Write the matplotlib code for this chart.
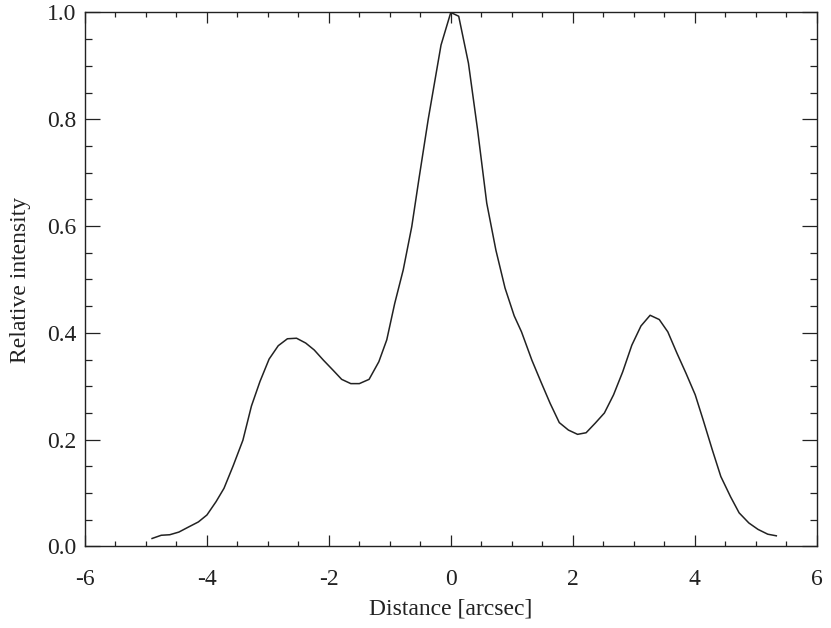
import numpy as np
import matplotlib
matplotlib.use("Agg")
import matplotlib.pyplot as plt
from matplotlib.ticker import MultipleLocator

# profile
distance = [-4.90, -4.75, -4.61, -4.46, -4.31, -4.14, -4.00, -3.85, -3.72, -3.57,
            -3.41, -3.27, -3.13, -2.98, -2.83, -2.68, -2.53, -2.38, -2.24, -2.09,
            -1.93, -1.79, -1.64, -1.50, -1.34, -1.18, -1.05, -0.92, -0.78, -0.64,
            -0.52, -0.37, -0.16, 0.00, 0.13, 0.29, 0.44, 0.59, 0.74, 0.89,
            1.04, 1.16, 1.33, 1.48, 1.63, 1.78, 1.93, 2.08, 2.22, 2.37,
            2.52, 2.67, 2.82, 2.97, 3.12, 3.27, 3.42, 3.56, 3.71, 3.86,
            4.01, 4.14, 4.29, 4.43, 4.59, 4.73, 4.89, 5.04, 5.20, 5.34]
intensity = [0.015, 0.021, 0.022, 0.027, 0.036, 0.046, 0.059, 0.084, 0.109, 0.151,
             0.199, 0.263, 0.309, 0.351, 0.376, 0.389, 0.390, 0.381, 0.368, 0.349,
             0.330, 0.313, 0.305, 0.305, 0.313, 0.346, 0.387, 0.455, 0.518, 0.599,
             0.690, 0.800, 0.939, 1.000, 0.993, 0.905, 0.780, 0.643, 0.555, 0.484,
             0.432, 0.402, 0.349, 0.308, 0.268, 0.232, 0.218, 0.210, 0.213, 0.231,
             0.250, 0.284, 0.327, 0.377, 0.413, 0.433, 0.425, 0.402, 0.362, 0.324,
             0.284, 0.237, 0.181, 0.131, 0.093, 0.063, 0.044, 0.032, 0.023, 0.020]

plt.rcParams['font.family'] = ['Liberation Serif', 'DejaVu Serif']
ink = '#222222'

fig = plt.figure(figsize=(8.31, 6.28), dpi=100)
ax = fig.add_axes([0.1023, 0.1298, 0.8803, 0.8503])
ax.plot(distance, intensity, color=ink, lw=1.1)

ax.set_xlim(-6, 6)
ax.set_ylim(0, 1.0)
ax.xaxis.set_major_locator(MultipleLocator(2))
ax.xaxis.set_minor_locator(MultipleLocator(0.5))
ax.yaxis.set_major_locator(MultipleLocator(0.2))
ax.yaxis.set_minor_locator(MultipleLocator(0.05))
ax.xaxis.set_major_formatter(plt.FuncFormatter(lambda v, p: '%d' % v))
ax.yaxis.set_major_formatter(plt.FuncFormatter(lambda v, p: '%.1f' % v))

for s in ax.spines.values():
    s.set_color(ink)
    s.set_linewidth(1.0)

ax.tick_params(axis='both', which='both', direction='in', top=True, right=True,
               color=ink, width=0.9, labelsize=17, labelcolor=ink)
ax.tick_params(axis='x', which='major', length=7.7, pad=16)
ax.tick_params(axis='x', which='minor', length=3.8)
ax.tick_params(axis='y', which='major', length=10.5, pad=6)
ax.tick_params(axis='y', which='minor', length=5.3)

ax.set_xlabel('Distance [arcsec]', fontsize=17, color=ink, labelpad=6)
ax.set_ylabel('Relative intensity', fontsize=17, color=ink, labelpad=12)

fig.savefig('out.png', dpi=100)
